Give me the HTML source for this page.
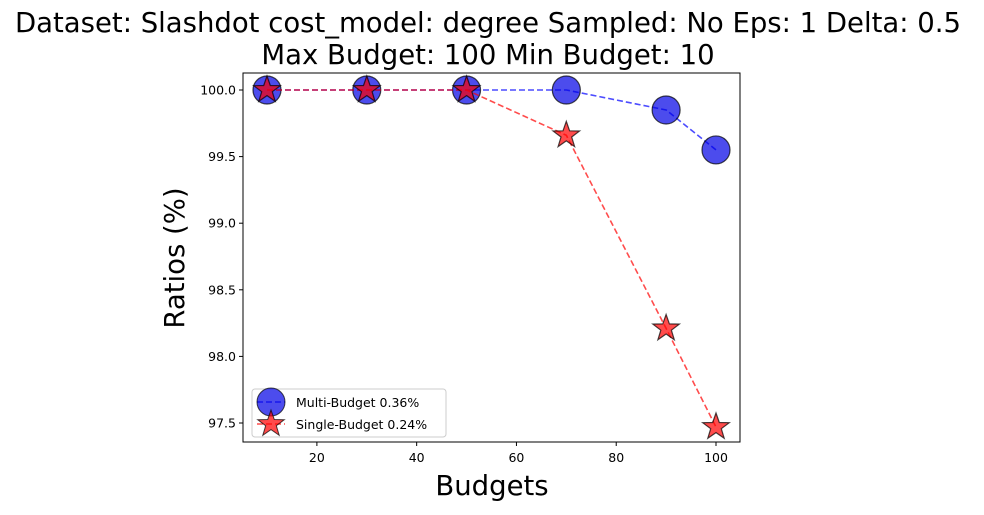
<!DOCTYPE html>
<html><head><meta charset="utf-8"><style>
body{margin:0;background:#fff;}
svg text{font-family:"DejaVu Sans","Liberation Sans",sans-serif;}
</style></head><body>
<svg id="chart" width="984" height="510" xmlns="http://www.w3.org/2000/svg">
<text x="488" y="32" text-anchor="middle" font-size="27.5">Dataset: Slashdot cost_model: degree Sampled: No Eps: 1 Delta: 0.5</text>
<text x="488" y="64" text-anchor="middle" font-size="27.5">Max Budget: 100 Min Budget: 10</text>
<g id="plot"></g>
<text x="492" y="495" text-anchor="middle" font-size="27.5">Budgets</text>
<text transform="translate(184,258) rotate(-90)" text-anchor="middle" font-size="27.5">Ratios (%)</text>
</svg>
<script>
const budgets=[10,30,50,70,90,100];
const multiValues=[100,100,100,100,99.85,99.55];
const singleValues=[100,100,100,99.66,98.21,97.47];
const xTicks=[20,40,60,80,100];
const yTicks=[97.5,98.0,98.5,99.0,99.5,100.0];
const L=243,R=740,T=73,B=442;
const xs=v=>267+(v-10)*(449/90);
const ys=v=>90+(100-v)*133.2;
const NS="http://www.w3.org/2000/svg";
const g=document.getElementById('plot');
function mk(t,a,p){const e=document.createElementNS(NS,t);for(const k in a)e.setAttribute(k,a[k]);(p||g).appendChild(e);return e;}
const frame=mk('rect',{x:L,y:T,width:R-L,height:B-T,fill:'none',stroke:'#000','stroke-width':1});


xTicks.forEach(v=>{const x=xs(v);
const l=mk('line',{x1:x,x2:x,y1:B,y2:B+4,stroke:'#000'});


const t=mk('text',{x:x,y:B+20,'text-anchor':'middle','font-size':12.5});t.textContent=v;

});
yTicks.forEach(v=>{const y=ys(v);
const l=mk('line',{x1:L-4,x2:L,y1:y,y2:y,stroke:'#000'});


const t=mk('text',{x:L-7,y:y+4.5,'text-anchor':'end','font-size':12.5});t.textContent=v.toFixed(1);

});
function starPts(cx,cy,r){let p=[];for(let i=0;i<10;i++){const a=-Math.PI/2+i*Math.PI/5;const rr=i%2?r*0.4:r;p.push((cx+rr*Math.cos(a)).toFixed(1)+','+(cy+rr*Math.sin(a)).toFixed(1));}return p.join(' ');}
const lm=mk('polyline',{points:budgets.map((b,i)=>xs(b)+','+ys(multiValues[i])).join(' '),fill:'none',stroke:'rgba(0,0,255,0.7)','stroke-width':1.6,'stroke-dasharray':'6,3'});


budgets.forEach((b,i)=>{const c=mk('circle',{cx:xs(b),cy:ys(multiValues[i]),r:14,fill:'rgba(0,0,230,0.7)',stroke:'rgba(0,0,0,0.7)','stroke-width':1.2});

});
const ls=mk('polyline',{points:budgets.map((b,i)=>xs(b)+','+ys(singleValues[i])).join(' '),fill:'none',stroke:'rgba(255,0,0,0.7)','stroke-width':1.6,'stroke-dasharray':'6,3'});


budgets.forEach((b,i)=>{const s=mk('polygon',{points:starPts(xs(b),ys(singleValues[i]),14),fill:'rgba(255,0,0,0.7)',stroke:'rgba(0,0,0,0.7)','stroke-width':1.2});

});
const leg=mk('g',{});


mk('rect',{x:252,y:389,width:194,height:48,rx:3,fill:'rgba(255,255,255,0.8)',stroke:'#ccc'},leg);
mk('line',{x1:257,x2:285,y1:402,y2:402,stroke:'rgba(0,0,255,0.7)','stroke-width':1.6,'stroke-dasharray':'6,3'},leg);
mk('circle',{cx:271,cy:402,r:14,fill:'rgba(0,0,230,0.7)',stroke:'rgba(0,0,0,0.7)'},leg);
const t1=mk('text',{x:296,y:407,'font-size':12.5},leg);t1.textContent='Multi-Budget 0.36%';


mk('line',{x1:257,x2:285,y1:424,y2:424,stroke:'rgba(255,0,0,0.7)','stroke-width':1.6,'stroke-dasharray':'6,3'},leg);
mk('polygon',{points:starPts(271,424,14),fill:'rgba(255,0,0,0.7)',stroke:'rgba(0,0,0,0.7)'},leg);
const t2=mk('text',{x:296,y:429,'font-size':12.5},leg);t2.textContent='Single-Budget 0.24%';


</script>
</body></html>
